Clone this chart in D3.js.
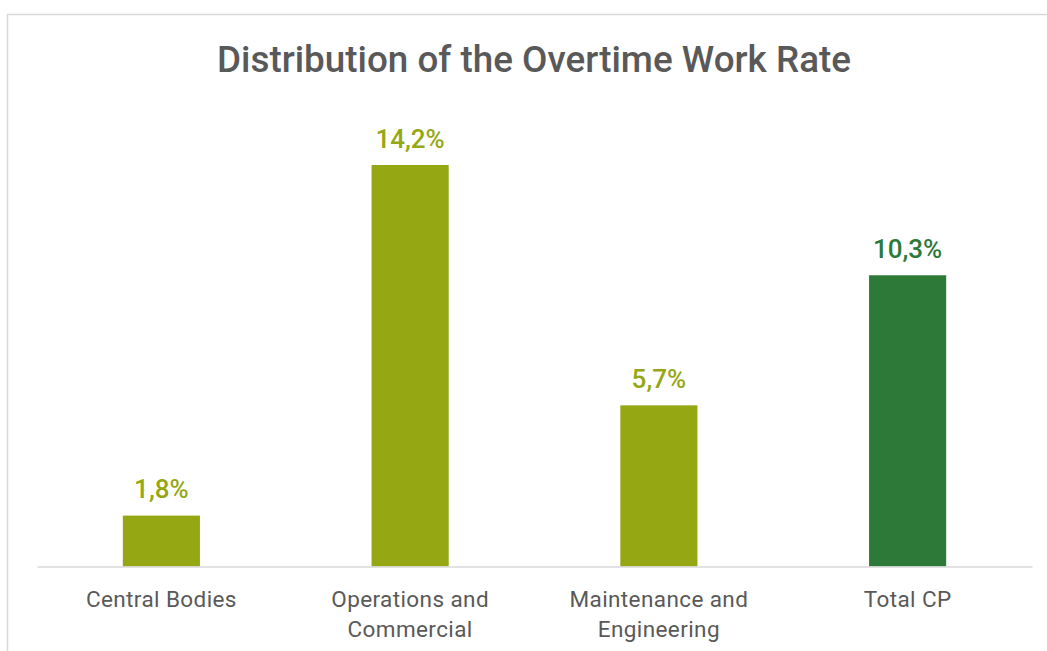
<!DOCTYPE html>
<html>
<head>
<meta charset="utf-8">
<script src="https://cdn.jsdelivr.net/npm/d3@7"></script>
<style>
  html, body { margin: 0; padding: 0; background: #ffffff; }
  svg { display: block; }
</style>
</head>
<body>
<svg id="chart" width="1047" height="651"></svg>
<script>
// Overtime work rate by organisational area (%)
const categories = ["Central Bodies", "Operations and Commercial", "Maintenance and Engineering", "Total CP"];
const categoryLines = [["Central Bodies"], ["Operations and", "Commercial"], ["Maintenance and", "Engineering"], ["Total CP"]];
const values = [1.8, 14.2, 5.7, 10.3];
const valueLabels = ["1,8%", "14,2%", "5,7%", "10,3%"];
const barColors = ["#95a713", "#95a713", "#95a713", "#2d7937"];
const title = "Distribution of the Overtime Work Rate";

const svg = d3.select("#chart");
const W = 1047, H = 651;

// light frame around the chart area
svg.append("rect")
  .attr("x", 7.5).attr("y", 14.5)
  .attr("width", W + 10).attr("height", H + 10)
  .attr("fill", "#fff")
  .attr("stroke", "#d9d9d9").attr("stroke-width", 1.5);

const x = d3.scaleBand()
  .domain(categories)
  .range([37, 1032])
  .paddingInner(0.69)
  .paddingOuter(0.345);

const baseline = 566.5;
const y = d3.scaleLinear()
  .domain([0, 14.2])
  .range([baseline, 165]);

// title
svg.append("text")
  .attr("x", 534).attr("y", 72)
  .attr("text-anchor", "middle")
  .attr("font-family", "Roboto, sans-serif")
  .attr("font-weight", 500)
  .attr("font-size", 37)
  .attr("fill", "#595959")
  .attr("textLength", 634)
  .attr("lengthAdjust", "spacingAndGlyphs")
  .text(title);

// bars
svg.append("g").selectAll("rect")
  .data(categories)
  .join("rect")
  .attr("x", d => x(d))
  .attr("width", x.bandwidth())
  .attr("y", (d, i) => y(values[i]))
  .attr("height", (d, i) => baseline - y(values[i]))
  .attr("fill", (d, i) => barColors[i]);

// category axis
const axis = svg.append("g")
  .attr("transform", `translate(0,${baseline})`)
  .call(d3.axisBottom(x).tickSize(0).tickFormat(""));
axis.select(".domain").attr("stroke", "#d9d9d9").attr("stroke-width", 1.5);

// category labels (wrapped)
const labels = svg.append("g").selectAll("text")
  .data(categories)
  .join("text")
  .attr("text-anchor", "middle")
  .attr("font-family", "Roboto, sans-serif")
  .attr("font-size", 22.5)
  .attr("letter-spacing", 0.4)
  .attr("fill", "#595959");
labels.each(function(d, i) {
  const t = d3.select(this);
  categoryLines[i].forEach((line, k) => {
    t.append("tspan")
      .attr("x", x(d) + x.bandwidth() / 2)
      .attr("y", 607 + k * 30)
      .text(line);
  });
});

// value labels
svg.append("g").selectAll("text")
  .data(categories)
  .join("text")
  .attr("x", d => x(d) + x.bandwidth() / 2)
  .attr("y", (d, i) => y(values[i]) - 17.5)
  .attr("text-anchor", "middle")
  .attr("font-family", "Roboto, sans-serif")
  .attr("font-weight", 500)
  .attr("font-size", 26)
  .attr("fill", (d, i) => barColors[i])
  .text((d, i) => valueLabels[i]);
</script>
</body>
</html>
